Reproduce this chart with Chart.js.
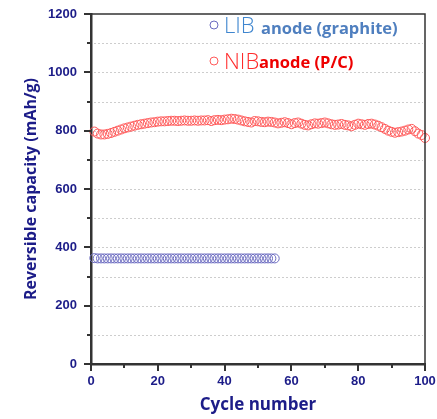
<!DOCTYPE html>
<html>
<head>
<meta charset="utf-8">
<script src="https://cdn.jsdelivr.net/npm/chart.js@4"></script>
<style>
  html, body { margin: 0; padding: 0; background: #fff; }
  #wrap { width: 437px; height: 419px; }
</style>
</head>
<body>
<div id="wrap"><canvas id="chart" width="437" height="419"></canvas></div>
<script>
// cycle numbers 1..100
const cycles = Array.from({ length: 100 }, (_, i) => i + 1);

// NIB anode (P/C) capacity, mAh/g
const nibCapacity = [
  797, 790, 787, 787, 789, 792, 796, 800, 804, 808,
  811, 814, 817, 820, 822, 824, 826, 828, 829, 831,
  832, 832, 833, 834, 834, 833, 834, 835, 834, 834,
  835, 834, 835, 835, 836, 833, 836, 837, 836, 838,
  839, 841, 840, 838, 835, 832, 830, 828, 833, 832,
  830, 829, 831, 830, 828, 825, 827, 829, 826, 822,
  826, 828, 824, 820, 818, 822, 825, 824, 826, 828,
  825, 822, 820, 821, 823, 820, 818, 815, 820, 824,
  822, 820, 823, 824, 821, 817, 812, 806, 800, 796,
  793, 795, 797, 800, 804, 806, 798, 790, 785, 775
];

// LIB anode (graphite) capacity, mAh/g (cycles 1..55)
const libCapacity = [
  363, 362, 362, 362, 362, 362, 362, 362, 362, 362,
  362, 362, 362, 362, 362, 362, 362, 362, 362, 362,
  362, 362, 362, 362, 362, 362, 362, 362, 362, 362,
  362, 362, 362, 362, 362, 362, 362, 362, 362, 362,
  362, 362, 362, 362, 362, 362, 362, 362, 362, 362,
  362, 362, 362, 362, 362
];

const navy = '#1c1c88';
const axisDark = '#333333';

const toPoints = (vals) => vals.map((v, i) => ({ x: cycles[i], y: v }));

// dotted horizontal grid at every 100
const gridLines = {
  id: 'gridLines',
  beforeDatasetsDraw(chart) {
    const ctx = chart.ctx;
    const ys = chart.scales.y;
    const a = chart.chartArea;
    ctx.save();
    ctx.strokeStyle = '#cdcdcd';
    ctx.lineWidth = 1;
    ctx.setLineDash([2, 2]);
    for (let v = 100; v < 1200; v += 100) {
      const py = Math.round(ys.getPixelForValue(v)) + 0.5;
      ctx.beginPath(); ctx.moveTo(a.left + 3, py); ctx.lineTo(a.right - 2, py); ctx.stroke();
    }
    ctx.restore();
  }
};

// ticks (major/minor), top+right frame and the legend text
const extras = {
  id: 'extras',
  afterDraw(chart) {
    const ctx = chart.ctx;
    const xs = chart.scales.x, ys = chart.scales.y;
    const a = chart.chartArea;
    ctx.save();
    ctx.strokeStyle = axisDark;
    ctx.lineWidth = 2;
    for (let v = 0; v <= 100; v += 10) {
      const px = Math.round(xs.getPixelForValue(v));
      const len = v % 20 === 0 ? 7 : 4;
      ctx.beginPath(); ctx.moveTo(px, a.bottom); ctx.lineTo(px, a.bottom + len); ctx.stroke();
    }
    for (let v = 0; v <= 1200; v += 100) {
      const py = Math.round(ys.getPixelForValue(v));
      const len = v % 200 === 0 ? 7 : 4;
      ctx.beginPath(); ctx.moveTo(a.left, py); ctx.lineTo(a.left - len, py); ctx.stroke();
    }
    // top and right frame
    ctx.lineWidth = 1.5;
    ctx.beginPath();
    ctx.moveTo(a.left, a.top); ctx.lineTo(a.right, a.top); ctx.lineTo(a.right, a.bottom);
    ctx.stroke();

    // legend
    ctx.lineWidth = 1;
    ctx.textBaseline = 'alphabetic';
    ctx.strokeStyle = '#6b6bc0';
    ctx.beginPath(); ctx.arc(214, 25, 4, 0, Math.PI * 2); ctx.stroke();
    ctx.fillStyle = '#3f86cf';
    ctx.font = '300 22px "Open Sans"';
    ctx.fillText('LIB', 224, 33);
    ctx.fillStyle = '#4f7fbf';
    ctx.font = 'bold 16.5px "Open Sans"';
    ctx.fillText('anode (graphite)', 261, 34);

    ctx.strokeStyle = '#ff5a5a';
    ctx.beginPath(); ctx.arc(214, 61, 4, 0, Math.PI * 2); ctx.stroke();
    ctx.fillStyle = '#ff2a2a';
    ctx.font = '300 22px "Open Sans"';
    ctx.fillText('NIB', 224, 69);
    ctx.fillStyle = '#ee0000';
    ctx.font = 'bold 16.5px "Open Sans"';
    ctx.fillText('anode (P/C)', 259, 68);
    ctx.restore();
  }
};

new Chart(document.getElementById('chart'), {
  type: 'scatter',
  data: {
    datasets: [
      {
        label: 'NIB anode (P/C)',
        data: toPoints(nibCapacity),
        pointStyle: 'circle',
        pointRadius: 4.5,
        pointBorderWidth: 1,
        borderColor: '#ff5a5a',
        backgroundColor: 'rgba(255,255,255,0)',
        showLine: false
      },
      {
        label: 'LIB anode (graphite)',
        data: toPoints(libCapacity),
        pointStyle: 'circle',
        pointRadius: 4.5,
        pointBorderWidth: 1,
        borderColor: '#6b6bc0',
        backgroundColor: 'rgba(255,255,255,0)',
        showLine: false
      }
    ]
  },
  options: {
    responsive: false,
    animation: false,
    clip: false,
    layout: { padding: { top: 14, right: 12, left: 0, bottom: 0 } },
    plugins: {
      legend: { display: false },
      tooltip: { enabled: false }
    },
    scales: {
      x: {
        type: 'linear',
        min: 0, max: 100,
        afterFit: (s) => { s.height = 55; s.paddingLeft = 0; s.paddingRight = 0; },
        grid: { display: false, drawTicks: false },
        border: { display: true, color: axisDark, width: 2.5 },
        ticks: {
          stepSize: 10,
          padding: 10,
          color: navy,
          font: { family: '"Liberation Sans", Arial', weight: 'bold', size: 13 },
          callback: (v) => (v % 20 === 0 ? v : '')
        },
        title: {
          display: true,
          text: 'Cycle number',
          color: navy,
          padding: { top: 1 },
          font: { family: '"Open Sans"', weight: 'bold', size: 17 }
        }
      },
      y: {
        min: 0, max: 1200,
        afterFit: (s) => { s.width = 91; s.paddingTop = 0; s.paddingBottom = 0; },
        grid: { display: false, drawTicks: false },
        border: { display: true, color: axisDark, width: 2.5 },
        ticks: {
          stepSize: 100,
          padding: 14,
          color: navy,
          font: { family: '"Liberation Sans", Arial', weight: 'bold', size: 13 },
          callback: (v) => (v % 200 === 0 ? v : '')
        },
        title: {
          display: true,
          text: 'Reversible capacity (mAh/g)',
          color: navy,
          padding: { top: 22, bottom: 0 },
          font: { family: '"Open Sans"', weight: 'bold', size: 16 }
        }
      }
    }
  },
  plugins: [gridLines, extras]
});
</script>
</body>
</html>
